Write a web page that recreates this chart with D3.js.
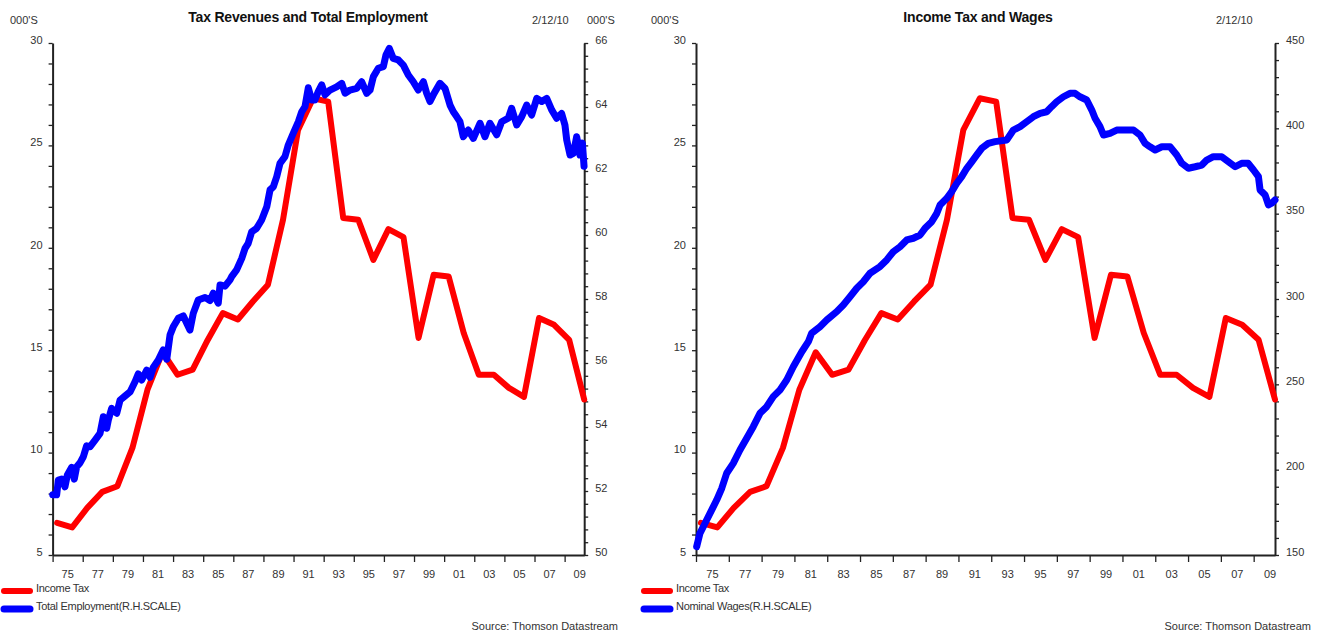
<!DOCTYPE html>
<html>
<head>
<meta charset="utf-8">
<script src="https://cdn.jsdelivr.net/npm/d3@7"></script>
<style>
html, body { margin: 0; padding: 0; background: #fff; }
svg { display: block; font-family: 'Liberation Sans', Arial, sans-serif; }
</style>
</head>
<body>
<svg id="chart" width="1321" height="634"></svg>
<script>
// Annual income tax (000's, left scale), one value per fiscal year 1974..2009
const taxYears = d3.range(1974, 2010);
const incomeTax = [6.57, 6.35, 7.3, 8.08, 8.36, 10.23, 13.07, 14.9, 13.8, 14.05,
  15.5, 16.81, 16.5, 17.38, 18.2, 21.37, 25.76, 27.3, 27.14, 21.45,
  21.37, 19.41, 20.91, 20.52, 15.6, 18.68, 18.6, 15.84, 13.8, 13.8,
  13.16, 12.72, 16.57, 16.24, 15.51, 12.59];

// Total employment (000's, right scale of the left chart)
const empDates = [1974.01, 1974.27, 1974.38, 1974.60, 1974.82, 1974.98, 1975.27, 1975.44, 1975.60, 1975.82,
  1976.04, 1976.26, 1976.48, 1976.82, 1977.15, 1977.37, 1977.59, 1977.70, 1977.92, 1978.26,
  1978.48, 1978.81, 1979.15, 1979.48, 1979.69, 1979.92, 1980.25, 1980.47, 1980.69, 1981.02,
  1981.35, 1981.58, 1981.80, 1982.01, 1982.35, 1982.68, 1983.12, 1983.34, 1983.67, 1984.12,
  1984.45, 1984.67, 1985.00, 1985.12, 1985.45, 1985.78, 1985.89, 1986.22, 1986.56, 1986.78,
  1986.99, 1987.22, 1987.55, 1987.88, 1988.22, 1988.44, 1988.66, 1988.88, 1989.10, 1989.43,
  1989.65, 1989.98, 1990.32, 1990.54, 1990.76, 1990.98, 1991.20, 1991.42, 1991.64, 1991.87,
  1992.09, 1992.42, 1992.86, 1993.20, 1993.42, 1993.75, 1994.19, 1994.52, 1994.86, 1995.08,
  1995.30, 1995.63, 1995.96, 1996.14, 1996.36, 1996.62, 1996.96, 1997.29, 1997.62, 1997.95,
  1998.28, 1998.62, 1998.84, 1999.06, 1999.28, 1999.72, 2000.06, 2000.39, 2000.61, 2000.83,
  2001.05, 2001.27, 2001.60, 2001.94, 2002.38, 2002.71, 2003.04, 2003.49, 2003.82, 2004.26,
  2004.48, 2004.82, 2005.15, 2005.48, 2005.81, 2006.15, 2006.48, 2006.81, 2007.14, 2007.47,
  2007.80, 2008.02, 2008.14, 2008.36, 2008.58, 2008.80, 2009.02, 2009.18, 2009.29];
const employment = [51.88, 51.88, 52.34, 52.37, 52.13, 52.5, 52.74, 52.37, 52.76, 52.88,
  53.07, 53.41, 53.38, 53.59, 53.8, 54.32, 53.96, 54.22, 54.58, 54.43,
  54.84, 54.97, 55.1, 55.42, 55.66, 55.47, 55.78, 55.55, 55.87, 56.09,
  56.41, 56.12, 56.88, 57.13, 57.4, 57.47, 57.03, 57.55, 57.97, 58.05,
  57.95, 58.18, 57.87, 58.44, 58.4, 58.6, 58.7, 58.91, 59.27, 59.58,
  59.74, 60.1, 60.21, 60.47, 60.88, 61.41, 61.51, 61.82, 62.24, 62.45,
  62.81, 63.18, 63.54, 63.85, 64.01, 64.6, 64.22, 64.22, 64.48, 64.69,
  64.38, 64.53, 64.63, 64.74, 64.43, 64.53, 64.58, 64.79, 64.43, 64.53,
  64.95, 65.21, 65.26, 65.63, 65.83, 65.52, 65.47, 65.31, 65.0, 64.79,
  64.53, 64.79, 64.43, 64.17, 64.38, 64.74, 64.58, 64.06, 63.85, 63.7,
  63.54, 63.07, 63.28, 63.02, 63.49, 63.07, 63.49, 63.13, 63.54, 63.65,
  63.96, 63.44, 63.7, 64.06, 63.75, 64.27, 64.17, 64.27, 63.91, 63.65,
  63.8, 63.44, 62.97, 62.5, 62.55, 63.07, 62.5, 62.87, 62.15];

// Nominal wages (right scale of the right chart)
const wageDates = [1974.04, 1974.24, 1974.55, 1974.96, 1975.26, 1975.57, 1975.87, 1976.27, 1976.68, 1977.09,
  1977.49, 1977.90, 1978.31, 1978.71, 1979.12, 1979.53, 1979.93, 1980.45, 1980.85, 1981.05,
  1981.56, 1981.97, 1982.58, 1982.98, 1983.39, 1983.80, 1984.20, 1984.61, 1985.22, 1985.63,
  1986.03, 1986.44, 1986.85, 1987.25, 1987.66, 1987.96, 1988.37, 1988.68, 1988.88, 1989.29,
  1989.59, 1989.90, 1990.20, 1990.51, 1990.81, 1991.12, 1991.42, 1991.82, 1992.23, 1992.95,
  1993.35, 1993.76, 1994.16, 1994.57, 1994.98, 1995.38, 1995.68, 1995.99, 1996.40, 1996.80,
  1997.11, 1997.41, 1997.82, 1998.13, 1998.33, 1998.63, 1998.84, 1999.24, 1999.65, 2000.26,
  2000.67, 2001.07, 2001.38, 2001.68, 2001.99, 2002.40, 2002.90, 2003.31, 2003.62, 2004.02,
  2004.43, 2004.84, 2005.14, 2005.54, 2006.05, 2006.46, 2006.87, 2007.27, 2007.66, 2007.99,
  2008.29, 2008.39, 2008.70, 2008.90, 2009.10, 2009.30];
const wages = [154.9, 162.7, 168.6, 176.4, 182.2, 189.1, 197.9, 203.7, 211.5, 218.4,
  225.2, 233, 236.9, 242.8, 246.7, 252.5, 260.3, 269.1, 275, 279.9,
  283.8, 287.7, 292.6, 296.5, 301.3, 306.3, 310.1, 315.1, 319, 322.9,
  327.7, 330.6, 334.6, 335.6, 337.5, 341.4, 345.3, 350.2, 355.1, 359,
  362.9, 367.8, 371.7, 376.6, 380.4, 384.4, 388.3, 391.2, 392.2, 393.2,
  399, 401, 403.9, 406.8, 408.8, 409.7, 412.7, 415.6, 418.5, 420.5,
  420.5, 418.5, 416.6, 410.7, 405.9, 401, 396.1, 397.1, 399, 399,
  399, 396.1, 391.2, 389.2, 387.3, 389.2, 389.2, 384.4, 379.5, 376.6,
  377.5, 378.5, 381.4, 383.4, 383.4, 380.4, 377.5, 379.5, 379.5, 375.6,
  371.7, 363.9, 360.9, 355.1, 356.1, 358];

const xTickYears = d3.range(1974, 2009, 2);   // tick marks
const xLabelYears = d3.range(1975, 2010, 2);  // labels 75, 77 ... 09

const FY_OFFSET = 0.3; // income tax plotted at fiscal year end
const TOP = 43, BOTTOM = 555;
const AXIS_COL = '#222', TEXT_COL = '#333';

const svg = d3.select('#chart');

const panels = [
  {
    x0: 52.6, x1: 584.2, title: 'Tax Revenues and Total Employment', titleX: 308,
    rDomain: [50, 66], rMinor: d3.range(0, 41).map(i => 50 + i * 0.4), rStep: 2,
    dates: empDates, values: employment, legend2: 'Total Employment(R.H.SCALE)',
    unitsX: 10, dateX: 532, unitsRX: 587, legendX: 4, sourceR: 618
  },
  {
    x0: 696, x1: 1275, title: 'Income Tax and Wages', titleX: 978,
    rDomain: [150, 450], rMinor: d3.range(150, 451, 10), rStep: 50,
    dates: wageDates, values: wages, legend2: 'Nominal Wages(R.H.SCALE)',
    unitsX: 651, dateX: 1216, unitsRX: null, legendX: 644, sourceR: 1311
  }
];

panels.forEach(p => {
  const g = svg.append('g');
  const x = d3.scaleLinear().domain([1974, 2009.3]).range([p.x0, p.x1]);
  const yL = d3.scaleLinear().domain([5, 30]).range([BOTTOM, TOP]);
  const yR = d3.scaleLinear().domain(p.rDomain).range([BOTTOM, TOP]);

  // header texts
  g.append('text').attr('x', p.titleX).attr('y', 22).attr('text-anchor', 'middle')
    .attr('font-size', 14).attr('font-weight', 'bold').attr('fill', '#111')
    .attr('letter-spacing', -0.2).text(p.title);
  g.append('text').attr('x', p.unitsX).attr('y', 24).attr('font-size', 11)
    .attr('fill', TEXT_COL).text("000'S");
  g.append('text').attr('x', p.dateX).attr('y', 24).attr('font-size', 11)
    .attr('fill', TEXT_COL).text('2/12/10');
  if (p.unitsRX) g.append('text').attr('x', p.unitsRX).attr('y', 24).attr('font-size', 11)
    .attr('fill', TEXT_COL).text("000'S");

  // left axis
  const ax = g.append('g').attr('transform', `translate(${p.x0},0)`)
    .call(d3.axisLeft(yL).tickValues(d3.range(5, 31, 1)).tickSize(4).tickSizeOuter(0).tickPadding(6)
      .tickFormat(d => d % 5 === 0 ? d : ''));
  // right axis
  const ar = g.append('g').attr('transform', `translate(${p.x1},0)`)
    .call(d3.axisRight(yR).tickValues(p.rMinor).tickSize(4).tickSizeOuter(0).tickPadding(7)
      .tickFormat(d => {
        const r = Math.round(d);
        return Math.abs(d - r) < 1e-6 && r % p.rStep === 0 ? r : '';
      }));
  // bottom axis
  const ab = g.append('g').attr('transform', `translate(0,${BOTTOM})`)
    .call(d3.axisBottom(x).tickValues(xTickYears).tickSize(7).tickSizeOuter(0).tickFormat(''));

  [ax, ar, ab].forEach(a => {
    a.select('.domain').attr('stroke', AXIS_COL).attr('stroke-width', 2);
    a.selectAll('.tick line').attr('stroke', AXIS_COL).attr('stroke-width', 1.3);
    a.selectAll('text').attr('fill', TEXT_COL).attr('font-size', 11)
      .attr('font-family', "'Liberation Sans', Arial, sans-serif").attr('dy', '0.02em');
  });
  ab.select('.domain').attr('stroke-width', 2.2);

  g.append('g').selectAll('text').data(xLabelYears).join('text')
    .attr('x', d => x(d)).attr('y', 578).attr('text-anchor', 'middle')
    .attr('font-size', 11).attr('fill', TEXT_COL)
    .text(d => String(d).slice(2));

  // series
  const tax = taxYears.map((t, i) => ({ t: t + FY_OFFSET, v: incomeTax[i] }));
  const blue = p.dates.map((t, i) => ({ t, v: p.values[i] }));

  g.append('path').datum(tax)
    .attr('fill', 'none').attr('stroke', '#ff0000').attr('stroke-width', 6)
    .attr('stroke-linejoin', 'round').attr('stroke-linecap', 'round')
    .attr('d', d3.line().x(d => x(d.t)).y(d => yL(d.v)));
  g.append('path').datum(blue)
    .attr('fill', 'none').attr('stroke', '#0000ff').attr('stroke-width', 7)
    .attr('stroke-linejoin', 'round').attr('stroke-linecap', 'round')
    .attr('d', d3.line().x(d => x(d.t)).y(d => yR(d.v)));

  // legend
  const leg = [['Income Tax', '#ff0000', 591, 6], [p.legend2, '#0000ff', 609, 7]];
  leg.forEach(([label, col, ly, w]) => {
    g.append('line').attr('x1', p.legendX).attr('x2', p.legendX + 26)
      .attr('y1', ly).attr('y2', ly).attr('stroke', col).attr('stroke-width', w)
      .attr('stroke-linecap', 'round');
    g.append('text').attr('x', p.legendX + 32).attr('y', ly + 1).attr('font-size', 11)
      .attr('fill', TEXT_COL).attr('letter-spacing', -0.3).text(label);
  });
  g.append('text').attr('x', p.sourceR).attr('y', 630).attr('text-anchor', 'end')
    .attr('font-size', 11).attr('fill', TEXT_COL).text('Source: Thomson Datastream');
});
</script>
</body>
</html>
